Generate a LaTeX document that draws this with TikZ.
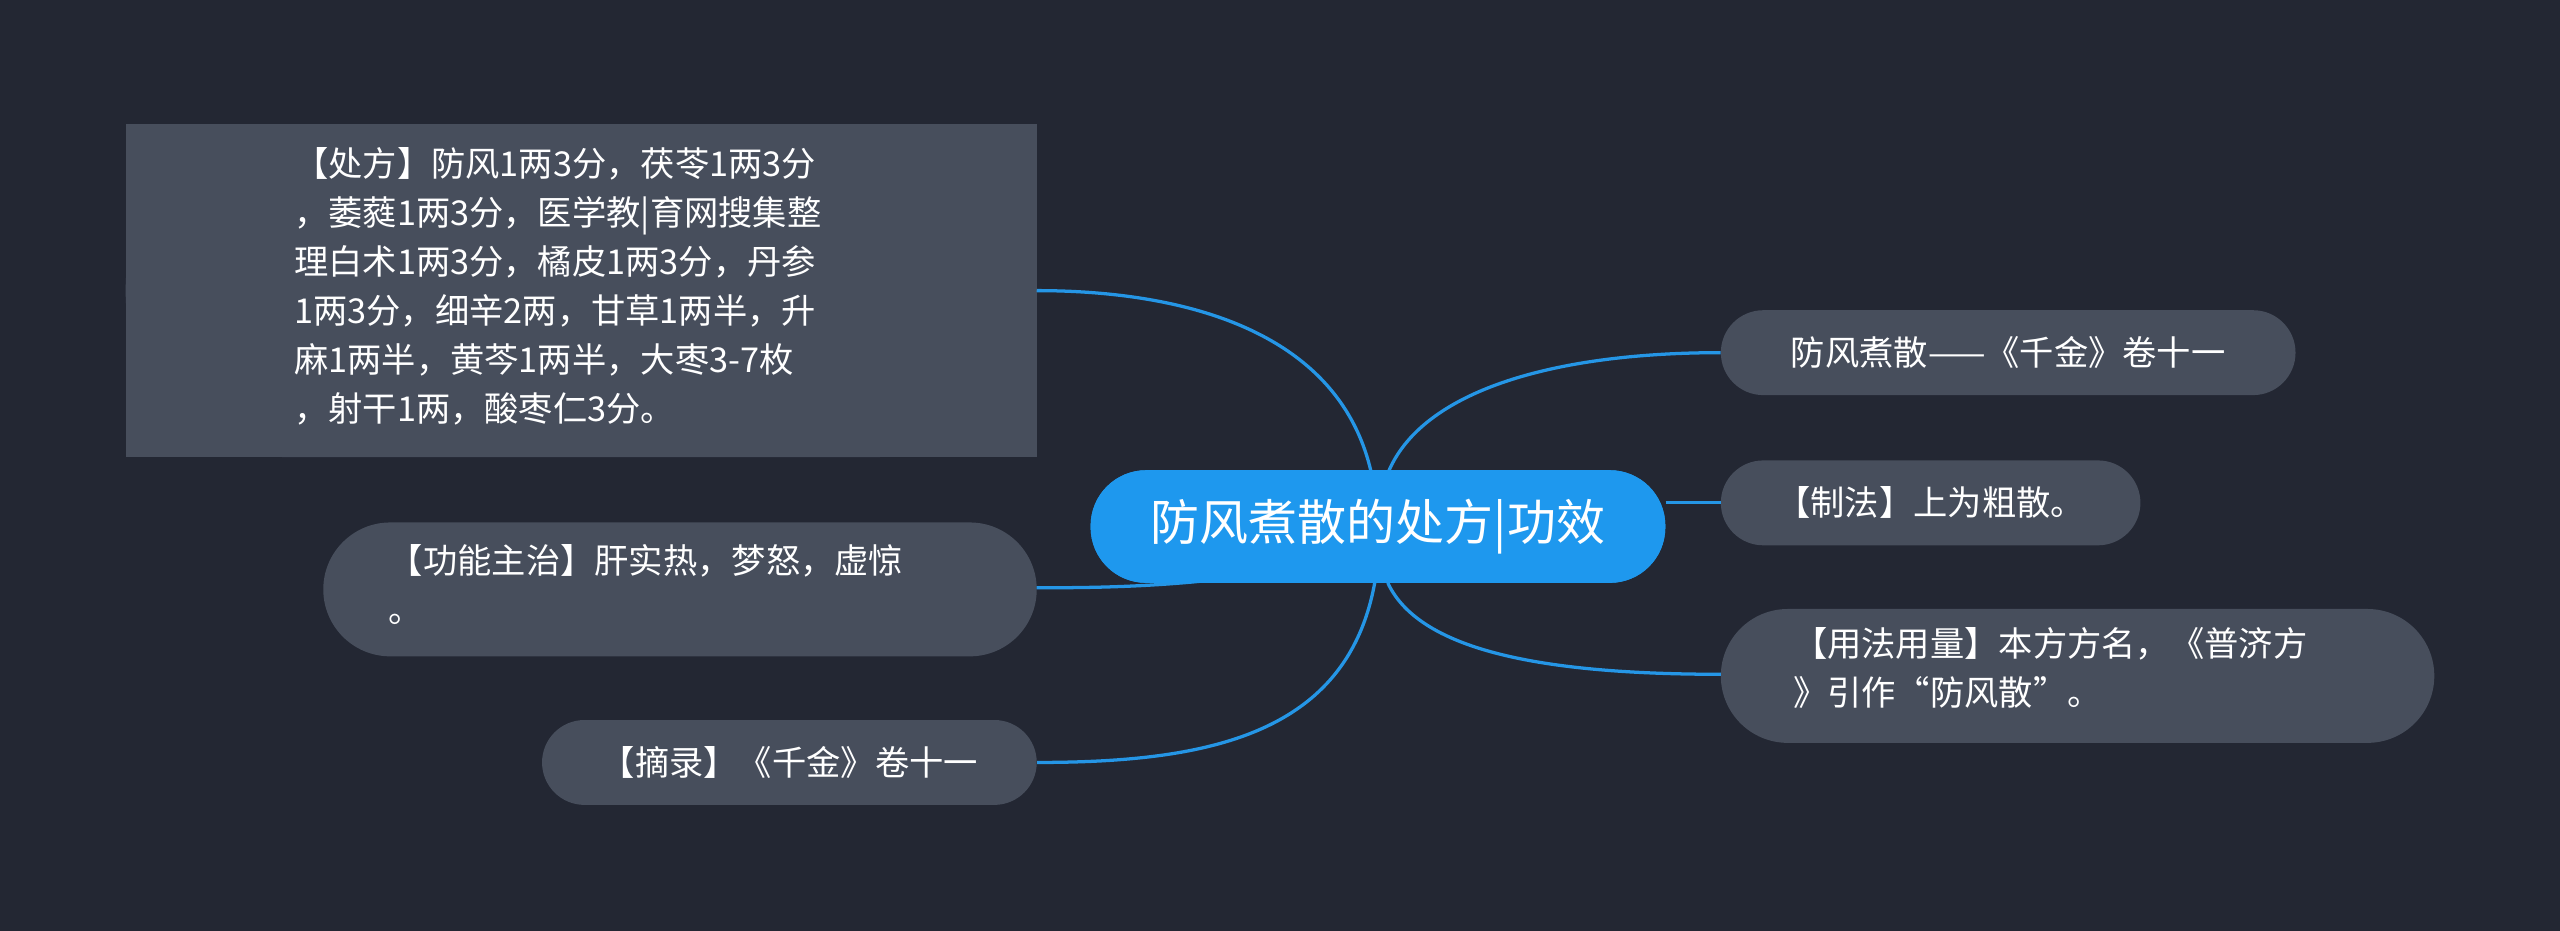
\documentclass[tikz,border=0pt]{standalone}
\usepackage{fontspec}
\setmainfont{Noto Sans CJK SC}
\definecolor{bg}{HTML}{232733}
\definecolor{box}{HTML}{474E5C}
\definecolor{ctr}{HTML}{1E98EE}
\definecolor{ln}{HTML}{2596E6}
\begin{document}
\begin{tikzpicture}[x=1pt,y=-1pt,
  leaf/.style={fill=box,text=white,font=\fontsize{21}{30}\selectfont,inner sep=0pt,align=left},
  conn/.style={draw=ln,line width=2pt}]
\fill[bg] (0,0) rectangle (1568,570);
\useasboundingbox (0,0) rectangle (1568,570);
\fill[box] (77,76) rectangle (635,280) [rounded corners=100pt];
\fill[box,rounded corners=100pt] (77,76) rectangle (635,280);
\node[leaf,fill=none,anchor=north west] (tl) at (180,90) {【处方】防风1两3分，茯苓1两3分\\，萎蕤1两3分，医学教|育网搜集整\\理白术1两3分，橘皮1两3分，丹参\\1两3分，细辛2两，甘草1两半，升\\麻1两半，黄芩1两半，大枣3-7枚\\，射干1两，酸枣仁3分。};
\coordinate (tlc) at (635,178);
\fill[box,rounded corners=41pt] (198,320) rectangle (635,402);
\node[leaf,fill=none,anchor=north west] (fn) at (238,333) {【功能主治】肝实热，梦怒，虚惊\\。};
\coordinate (fnc) at (635,360);
\node[leaf,minimum width=303pt,minimum height=52pt,rounded corners=26pt] (zl) at (483.5,467) {【摘录】《千金》卷十一};
\node[leaf,minimum width=352pt,minimum height=52pt,rounded corners=26pt] (r1) at (1230,216) {防风煮散——《千金》卷十一};
\node[leaf,minimum width=257pt,minimum height=52pt,rounded corners=26pt] (r2) at (1182.5,308) {【制法】上为粗散。};
\fill[box,rounded corners=41pt] (1054,373) rectangle (1491,455);
\node[leaf,fill=none,anchor=north west] (r3) at (1098,384) {【用法用量】本方方名，《普济方\\》引作“防风散”。};
\coordinate (r3c) at (1054,413);
\node[fill=ctr,text=white,font=\fontsize{30}{36}\selectfont,minimum width=352pt,minimum height=69pt,rounded corners=34pt,inner sep=0pt] (c) at (844,322.5) {防风煮散的处方|功效};
\begin{scope}[on background layer/.style={}]
\end{scope}
\draw[conn] (840,290) .. controls (820,200) and (720,178) .. (tlc);
\draw[conn] (745,355) .. controls (700,360) and (660,360) .. (fnc);
\draw[conn] (842,357) .. controls (825,450) and (740,467) .. (zl.east);
\draw[conn] (850,290) .. controls (870,240) and (950,216) .. (r1.west);
\draw[conn] (c.east|-r2.west) -- (r2.west);
\draw[conn] (850,357) .. controls (870,400) and (950,413) .. (r3c);
\node[fill=ctr,text=white,font=\fontsize{30}{36}\selectfont,minimum width=352pt,minimum height=69pt,rounded corners=34pt,inner sep=0pt] (c2) at (844,322.5) {防风煮散的处方|功效};
\end{tikzpicture}
\end{document}
